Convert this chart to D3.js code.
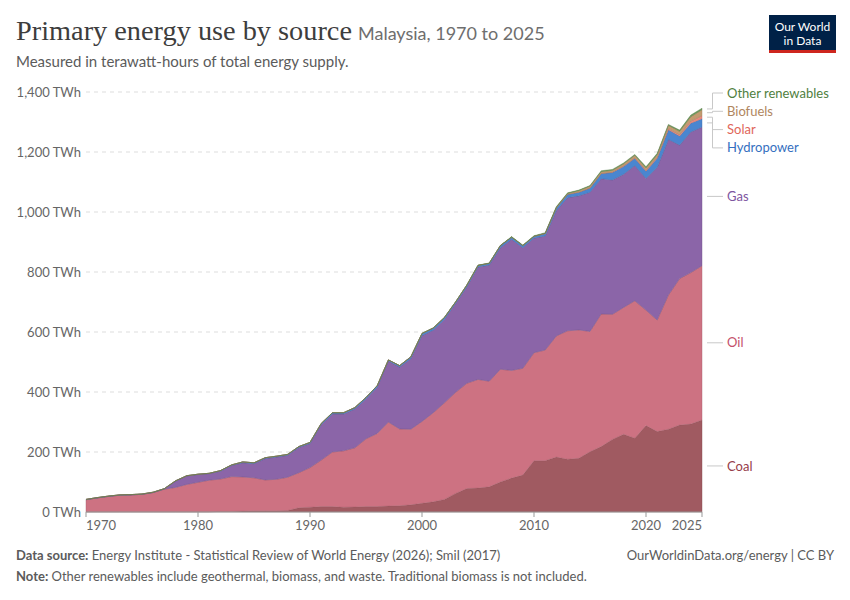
<!DOCTYPE html>
<html>
<head>
<meta charset="utf-8">
<script src="https://cdn.jsdelivr.net/npm/d3@7"></script>
<style>
  body { margin: 0; background: #fff; }
  svg text { font-family: Lato, "Noto Sans", sans-serif; }
</style>
</head>
<body>
<svg id="chart" width="850" height="600"></svg>
<script>
// Years and per-source values (TWh)
var years = d3.range(1970, 2026);

var coal = [1, 1, 1, 1, 1, 1, 1, 1, 1, 1,
    1, 1, 2, 2, 3, 4, 4, 4, 5, 14,
    16, 18, 18, 16, 17, 18, 18, 20, 21, 24,
    29, 34, 42, 62, 78, 80, 84, 100, 113, 123,
    171, 171, 183, 176, 179, 201, 218, 242, 259, 246,
    288, 268, 276, 290, 293, 307];

var oil = [40, 46, 51, 55, 56, 58, 64, 75, 81, 91,
    98, 105, 108, 116, 114, 110, 103, 105, 111, 117,
    132, 155, 182, 188, 197, 226, 244, 280, 256, 252,
    273, 297, 322, 337, 351, 362, 352, 376, 359, 356,
    360, 369, 404, 428, 428, 401, 442, 417, 423, 458,
    385, 372, 447, 488, 505, 514];

var gas = [0, 0, 0, 0, 0, 0, 0, 1, 21, 28,
    26, 22, 26, 37, 47, 47, 71, 74, 73, 84,
    80, 118, 127, 123, 129, 133, 154, 203, 206, 235,
    286, 275, 278, 296, 321, 375, 387, 405, 437, 402,
    382, 380, 418, 444, 447, 464, 451, 448, 444, 451,
    439, 509, 519, 445, 469, 462];

var hydro = [1, 1, 1, 1, 1, 1, 1, 1, 1, 1,
    1, 1, 2, 2, 3, 3, 3, 3, 3, 3,
    4, 4, 4, 4, 5, 5, 5, 4, 5, 6,
    7, 7, 6, 5, 6, 5, 6, 7, 7, 7,
    6, 8, 9, 11, 12, 14, 17, 25, 26, 24,
    24, 30, 32, 30, 29, 28];

var solar = [0, 0, 0, 0, 0, 0, 0, 0, 0, 0,
    0, 0, 0, 0, 0, 0, 0, 0, 0, 0,
    0, 0, 0, 0, 0, 0, 0, 0, 0, 0,
    0, 0, 0, 0, 0, 0, 0, 0, 0, 0,
    0, 0, 0, 0, 0, 0.3, 0.5, 1, 1.5, 2,
    3, 3.5, 4, 5, 7, 10];

var biofuels = [0, 0, 0, 0, 0, 0, 0, 0, 0, 0,
    0, 0, 0, 0, 0, 0, 0, 0, 0, 0,
    0, 0, 0, 0, 0, 0, 0, 0, 0, 0,
    0, 0, 0, 0, 0, 0, 0, 0, 0, 0,
    0, 1, 2, 3, 5, 6, 6, 6, 7, 8,
    8, 9, 11, 11, 15, 20];

var otherRenewables = [0, 0, 0, 0, 0, 0, 0, 0, 0, 0,
    0, 0, 0, 0, 0, 0, 0, 0, 0, 0,
    0, 0, 0, 0, 0, 0, 0, 0, 0, 0,
    1, 1, 1, 1, 1, 1, 1, 1, 2, 2,
    2, 2, 2, 2, 2, 2, 3, 3, 3, 3,
    4, 4, 3, 4, 5, 5];

var yTicks = [0, 200, 400, 600, 800, 1000, 1200, 1400];
var xTicks = [1970, 1980, 1990, 2000, 2010, 2020, 2025];

// Stack order: bottom to top
var sources = [
    {key: 'coal', name: 'Coal', values: coal, fill: '#a05a61', label: '#963c4a'},
    {key: 'oil', name: 'Oil', values: oil, fill: '#cd7282', label: '#c4506a'},
    {key: 'gas', name: 'Gas', values: gas, fill: '#8b65a8', label: '#7e55a0'},
    {key: 'hydro', name: 'Hydropower', values: hydro, fill: '#4a86d0', label: '#356fc0'},
    {key: 'solar', name: 'Solar', values: solar, fill: '#ea8a7e', label: '#e0665a'},
    {key: 'biofuels', name: 'Biofuels', values: biofuels, fill: '#c39b70', label: '#b08660'},
    {key: 'other', name: 'Other renewables', values: otherRenewables, fill: '#6c9a5a', label: '#4f8040'}
];

// Build table for d3.stack
var table = years.map(function(yr, i) {
    var row = {year: yr};
    sources.forEach(function(s) { row[s.key] = s.values[i]; });
    return row;
});

var svg = d3.select('#chart');
var margin = {left: 86, right: 702, top: 92, bottom: 512};

var x = d3.scaleLinear().domain([1970, 2025]).range([margin.left, margin.right]);
var y = d3.scaleLinear().domain([0, 1400]).range([margin.bottom, margin.top]);

// Title and subtitle
svg.append('text')
    .attr('x', 16).attr('y', 40)
    .attr('textLength', 336)
    .attr('lengthAdjust', 'spacingAndGlyphs')
    .style('font-family', '"Liberation Serif", "DejaVu Serif", serif')
    .style('font-size', '26.5px')
    .style('fill', '#3d3d3d')
    .text('Primary energy use by source');
svg.append('text')
    .attr('x', 358).attr('y', 40)
    .style('font-size', '18px')
    .style('fill', '#6e6e6e')
    .text('Malaysia, 1970 to 2025');
svg.append('text')
    .attr('x', 16).attr('y', 67)
    .style('font-size', '15px')
    .style('fill', '#5b5b5b')
    .text('Measured in terawatt-hours of total energy supply.');

// Logo
var logo = svg.append('g').attr('transform', 'translate(769,15)');
logo.append('rect').attr('width', 67).attr('height', 38).attr('fill', '#002147');
logo.append('rect').attr('y', 35).attr('width', 67).attr('height', 3).attr('fill', '#ce261e');
logo.append('text').attr('x', 33.5).attr('y', 15.5).attr('text-anchor', 'middle')
    .style('font-size', '12px').style('fill', '#fff').text('Our World');
logo.append('text').attr('x', 33.5).attr('y', 29.5).attr('text-anchor', 'middle')
    .style('font-size', '12px').style('fill', '#fff').text('in Data');

// Gridlines and y labels
svg.append('g').selectAll('line')
    .data(yTicks.filter(function(d) { return d > 0; }))
    .join('line')
    .attr('x1', margin.left).attr('x2', margin.right)
    .attr('y1', function(d) { return y(d); })
    .attr('y2', function(d) { return y(d); })
    .attr('stroke', '#dddddd')
    .attr('stroke-dasharray', '4,4');

svg.append('g').selectAll('text')
    .data(yTicks)
    .join('text')
    .attr('x', 81)
    .attr('y', function(d) { return y(d); })
    .attr('dy', '0.35em')
    .attr('text-anchor', 'end')
    .style('font-size', '13px')
    .style('fill', '#666')
    .text(function(d) { return d3.format(',')(d) + ' TWh'; });

// Stacked areas
var stack = d3.stack().keys(sources.map(function(s) { return s.key; }));
var series = stack(table);

var area = d3.area()
    .x(function(d) { return x(d.data.year); })
    .y0(function(d) { return y(d[0]); })
    .y1(function(d) { return y(d[1]); });

svg.append('g').selectAll('path')
    .data(series)
    .join('path')
    .attr('d', area)
    .attr('fill', function(d, i) { return sources[i].fill; })
    .attr('stroke', function(d, i) { return d3.color(sources[i].fill).darker(0.6); })
    .attr('stroke-width', 0.5)
    .attr('stroke-opacity', 0.8);

// Top outline
var top = series[series.length - 1];
svg.append('path')
    .datum(top)
    .attr('d', d3.line()
        .x(function(d) { return x(d.data.year); })
        .y(function(d) { return y(d[1]); }))
    .attr('fill', 'none')
    .attr('stroke', '#6f7a68')
    .attr('stroke-width', 1);

// X axis
svg.append('line')
    .attr('x1', margin.left).attr('x2', margin.right)
    .attr('y1', y(0)).attr('y2', y(0))
    .attr('stroke', '#999');
var xg = svg.append('g');
xg.selectAll('line')
    .data(xTicks)
    .join('line')
    .attr('x1', function(d) { return x(d); })
    .attr('x2', function(d) { return x(d); })
    .attr('y1', y(0)).attr('y2', y(0) + 5)
    .attr('stroke', '#999');
xg.selectAll('text')
    .data(xTicks)
    .join('text')
    .attr('x', function(d) { return x(d); })
    .attr('y', y(0) + 18)
    .attr('text-anchor', function(d, i) {
        return i === 0 ? 'start' : (i === xTicks.length - 1 ? 'end' : 'middle');
    })
    .style('font-size', '13px')
    .style('fill', '#666')
    .text(function(d) { return d; });

// End labels, placed at band midpoints of the last year then spread apart
var last = series.map(function(s, i) {
    var d = s[s.length - 1];
    return {name: sources[i].name, color: sources[i].label, target: y((d[0] + d[1]) / 2)};
});
var labels = last.slice().sort(function(a, b) { return a.target - b.target; });
labels.forEach(function(l) { l.pos = l.target; });
var gap = 18.3;
for (var iter = 0; iter < 50; iter++) {
    for (var k = 1; k < labels.length; k++) {
        var over = labels[k - 1].pos + gap - labels[k].pos;
        if (over > 0) {
            labels[k - 1].pos -= over / 2;
            labels[k].pos += over / 2;
        }
    }
    if (labels[0].pos < margin.top + 1) {
        labels[0].pos = margin.top + 1;
    }
}
for (var k = 1; k < labels.length; k++) {
    if (labels[k].pos < labels[k - 1].pos + gap) labels[k].pos = labels[k - 1].pos + gap;
}

var lg = svg.append('g');
labels.forEach(function(l) {
    var moved = Math.abs(l.pos - l.target) > 1;
    var pts = moved
        ? [[707, l.target], [712.5, l.target], [712.5, l.pos], [723, l.pos]]
        : [[707, l.target], [723, l.target]];
    lg.append('path')
        .attr('d', d3.line()(pts))
        .attr('fill', 'none')
        .attr('stroke', '#c8c8c8')
        .attr('stroke-width', 1);
    lg.append('text')
        .attr('x', 727)
        .attr('y', l.pos)
        .attr('dy', '0.35em')
        .style('font-size', '13px')
        .style('fill', l.color)
        .text(l.name);
});

// Footer
var f1 = svg.append('text').attr('x', 16).attr('y', 560)
    .style('font-size', '13px').style('fill', '#5b5b5b');
f1.append('tspan').style('font-weight', 'bold').text('Data source:');
f1.append('tspan').text(' Energy Institute - Statistical Review of World Energy (2026); Smil (2017)');
svg.append('text').attr('x', 834).attr('y', 560).attr('text-anchor', 'end')
    .style('font-size', '13px').style('fill', '#5b5b5b')
    .text('OurWorldinData.org/energy | CC BY');
var f2 = svg.append('text').attr('x', 16).attr('y', 581)
    .style('font-size', '13px').style('fill', '#5b5b5b');
f2.append('tspan').style('font-weight', 'bold').text('Note:');
f2.append('tspan').text(' Other renewables include geothermal, biomass, and waste. Traditional biomass is not included.');
</script>
</body>
</html>
